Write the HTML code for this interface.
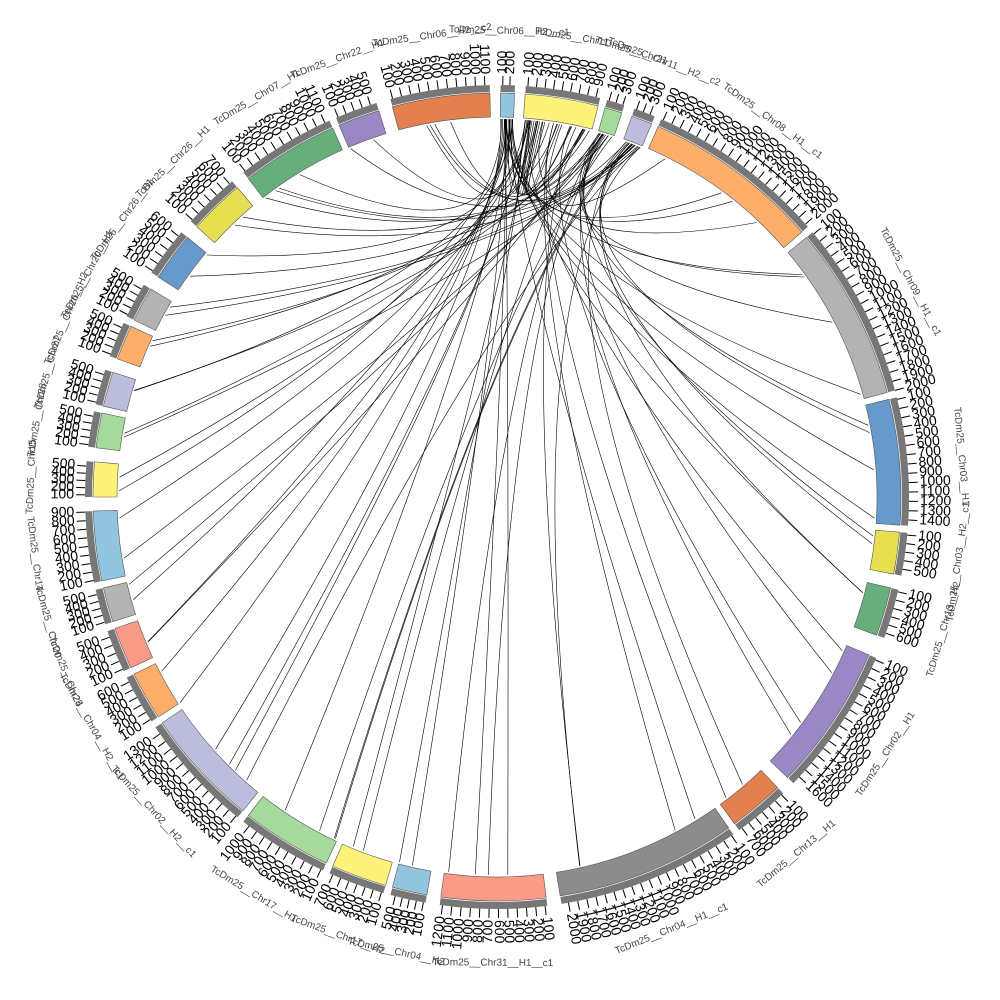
<!DOCTYPE html>
<html><head><meta charset="utf-8">
<style>
html,body{margin:0;padding:0;background:#fff;}
svg{display:block;}
text{font-family:"Liberation Sans",sans-serif;}
</style></head>
<body>
<svg id="s" width="1000" height="1000" viewBox="0 0 1000 1000" xmlns="http://www.w3.org/2000/svg">
<g id="links" fill="none" stroke="#000" stroke-width="0.6"></g>
<g id="sec"></g>
<g id="tk"></g>
<g id="lbl"></g>
</svg>
<script>
var CX=497,CY=497,RI=380,RO=404;
var S=[
[0.5,2.5,"#93c4e0","TcDm25__Chr06__H2__c1"],
[4,14.5,"#fff27a","TcDm25__Chr11"],
[15.5,18,"#a6d99c","TcDm25__Chr21"],
[19.5,22.5,"#bcbddc","TcDm25__Chr11__H2__c2"],
[23.5,49,"#fdae6b","TcDm25__Chr08__H1__c1"],
[50,75,"#b3b3b3","TcDm25__Chr09__H1__c1"],
[76,94,"#6699cc","TcDm25__Chr03__H1"],
[95,101,"#e8df50","TcDm25__Chr03__H2__c1"],
[103,110,"#66ae7a","TcDm25__Chr13__H2"],
[113,134,"#9a88c4","TcDm25__Chr02__H1"],
[136,144,"#e3804f","TcDm25__Chr13__H1"],
[145,171,"#8c8c8c","TcDm25__Chr04__H1__c1"],
[173,188,"#f99b87","TcDm25__Chr31__H1__c1"],
[190,195,"#93c4e0","TcDm25__Chr04__H2"],
[196,204,"#fff27a","TcDm25__Chr17__H2"],
[205,218,"#a6d99c","TcDm25__Chr17__H1"],
[219,236,"#bcbddc","TcDm25__Chr02__H2__c1"],
[237,244,"#fdae6b","TcDm25__Chr04__H2__c1"],
[245,251,"#f99b87","TcDm25__Chr24"],
[252,257,"#b3b3b3","TcDm25__Chr20"],
[258,268,"#93c4e0","TcDm25__Chr14"],
[270,275,"#fff27a","TcDm25__Chr15"],
[277,282,"#a6d99c","TcDm25__Chr28"],
[283,288,"#bcbddc","TcDm25__Chr27"],
[290,295,"#fdae6b","TcDm25__Chr26__H2"],
[296,301,"#b3b3b3","TcDm25__Chr20__H1"],
[303,310,"#6699cc","TcDm25__Chr26__H1"],
[312,320,"#e8df50","TcDm25__Chr26__H1"],
[322,336,"#66ae7a","TcDm25__Chr07__H1"],
[337,343,"#9a88c4","TcDm25__Chr22__H1"],
[345,359,"#e3804f","TcDm25__Chr06__H2__c2"]
];
function P(a,r){var t=a*Math.PI/180;return [CX+r*Math.sin(t),CY-r*Math.cos(t)];}
function f(p){return p[0].toFixed(1)+","+p[1].toFixed(1);}
var ns="http://www.w3.org/2000/svg";
function el(tag,at,par,txt){var e=document.createElementNS(ns,tag);for(var k in at)e.setAttribute(k,at[k]);if(txt)e.textContent=txt;document.getElementById(par).appendChild(e);return e;}
function arc(a0,a1,r0,r1){var la=(a1-a0)>180?1:0;
return "M"+f(P(a0,r1))+"A"+r1+","+r1+" 0 "+la+" 1 "+f(P(a1,r1))+"L"+f(P(a1,r0))+"A"+r0+","+r0+" 0 "+la+" 0 "+f(P(a0,r0))+"Z";}
var seed=7;function rnd(){seed=(seed*9301+49297)%233280;return seed/233280;}
for(var i=4;i<S.length;i++){
 var n=(S[i][1]-S[i][0])>12?4:2;
 for(var j=0;j<n;j++){
  var src=Math.floor(rnd()*4);var a0=S[src][0]+rnd()*(S[src][1]-S[src][0]);
  var a1=S[i][0]+rnd()*(S[i][1]-S[i][0]);
  var p0=P(a0,RI-2),p1=P(a1,RI-2);
  var c=[CX+12,CY-230];
  el("path",{d:"M"+f(p0)+"Q"+f(c)+" "+f(p1)},"links");
 }
}
for(var j=0;j<10;j++){var a0=S[0][0]+rnd()*14,a1=S[1][0]+rnd()*10;
 el("path",{d:"M"+f(P(a0,RI-2))+"Q"+f([CX+10,CY-230])+" "+f(P(a1,RI-2))},"links");}
S.forEach(function(s){
 el("path",{d:arc(s[0],s[1],RI,RO),fill:s[2],stroke:"#555","stroke-width":"0.6"},"sec");
 el("path",{d:arc(s[0],s[1],RO+1,RO+8),fill:"#777"},"sec");
 var span=s[1]-s[0];var step=span>12?1.3:(span>5?1.2:1.0);var k=1;
 for(var a=s[0]+0.3;a<=s[1];a+=step){
  var q1=P(a,RO+8),q2=P(a,RO+17);
  el("line",{x1:q1[0].toFixed(1),y1:q1[1].toFixed(1),x2:q2[0].toFixed(1),y2:q2[1].toFixed(1),stroke:"#000","stroke-width":"1"},"tk");
  var p=P(a,RO+19);var rot,anc;
  if(a<180){rot=a-90;anc="start";}else{rot=a+90;anc="end";}
  el("text",{x:p[0].toFixed(1),y:p[1].toFixed(1),"font-size":"14",fill:"#000","text-anchor":anc,"dominant-baseline":"middle",transform:"rotate("+rot.toFixed(1)+" "+p[0].toFixed(1)+" "+p[1].toFixed(1)+")"},"tk",(k*100)+"");
  k++;
 }
 var m=(s[0]+s[1])/2;var q=P(m,RO+62);
 var r2=(m>90&&m<270)?m-180:m;
 el("text",{x:q[0].toFixed(1),y:q[1].toFixed(1),"font-size":"10",fill:"#444","text-anchor":"middle","dominant-baseline":"middle",transform:"rotate("+r2.toFixed(1)+" "+q[0].toFixed(1)+" "+q[1].toFixed(1)+")"},"lbl",s[3]);
});
</script>
</body></html>
